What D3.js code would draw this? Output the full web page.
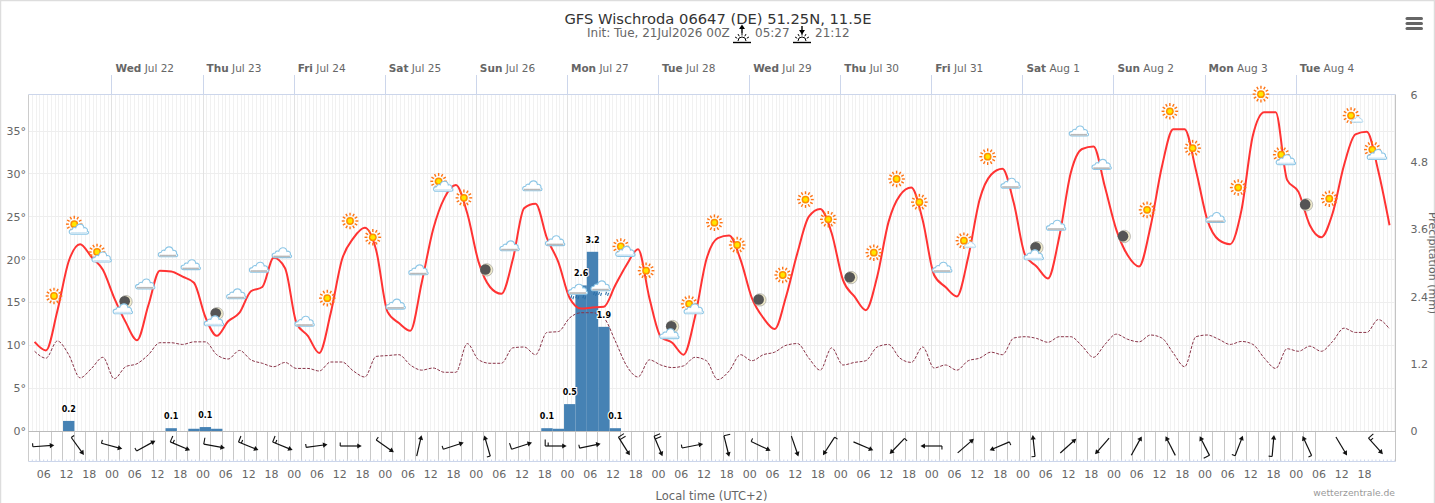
<!DOCTYPE html>
<html>
<head>
<meta charset="utf-8">
<title>GFS Wischroda</title>
<script src="https://cdn.jsdelivr.net/npm/d3@7/dist/d3.min.js"></script>
<style>
  html, body { margin: 0; padding: 0; background: #fff; overflow: hidden; }
  svg { display: block; font-family: "DejaVu Sans", sans-serif; }
  text { fill: #666; }
  .domain { display: none; }
</style>
</head>
<body>
<svg id="chart" width="1435" height="503"></svg>
<script>
// 3-hourly model output
var tempValues = [
  10.4, 9.4, 14, 19.8, 21.8, 20.3, 18.8, 15.5, 12.7, 10.6,
  14.7, 18.7, 18.6, 18, 17.3, 13.3, 11.1, 12.8, 13.8, 16.3,
  16.8, 20.2, 19, 12.6, 11.1, 9.1, 13.7, 20, 22.5, 23.7,
  21.1, 13.9, 12.6, 11.7, 17.3, 23.5, 27.2, 28.7, 25.4, 19.7,
  16.8, 16, 20, 26, 26.5, 22.5, 19.7, 15.5, 14.3, 14.4,
  14.5, 17, 19.4, 21.2, 15.5, 11, 10.3, 8.9, 13.3, 20,
  22.5, 22.8, 20, 15.5, 13.2, 11.9, 15.7, 20.8, 25, 25.9,
  23.1, 17.6, 15.7, 14.1, 18, 24.4, 27.5, 28.4, 24.6, 18.2,
  16.8, 15.7, 20.3, 27, 29.9, 30.6, 26.6, 20.5, 19.2, 17.8,
  22.7, 30.1, 32.9, 33.2, 28.5, 23.5, 20.5, 19.2, 23.8, 30.8,
  35.2, 35.2, 30.4, 24.6, 22.3, 21.8, 25.8, 34.5, 37.2, 37.2,
  29.3, 27.9, 24, 22.6, 25.4, 31, 34.6, 34.9, 30.4, 24
];
var dewValues = [
  9.3, 8.5, 10.5, 8.9, 6.2, 7.3, 8.6, 6.1, 7.5, 7.85,
  8.9, 10.3, 10.3, 10.1, 10.4, 10.4, 8.9, 8.4, 9.4, 8.3,
  7.9, 7.5, 8, 7.3, 7.3, 7, 8.05, 8.05, 7, 6.3,
  8.7, 8.8, 8.9, 7.7, 7.1, 7.35, 6.85, 6.85, 10.2, 8.3,
  7.9, 7.9, 9.7, 9.8, 8.9, 11.5, 11.6, 13.2, 13.8, 13.8,
  13.2, 10.5, 7.6, 6.3, 8.3, 7.7, 7.4, 7.6, 8.6, 8.2,
  6, 7, 8.9, 8.2, 8.9, 9.2, 10, 10.2, 8.5, 7.1,
  9.7, 7.7, 8, 8.2, 9.8, 10.1, 8.5, 8, 9.8, 7.35,
  7.7, 7.1, 8.2, 8.5, 9.2, 8.9, 10.85, 11, 10.8, 10.35,
  11, 11, 9.9, 8.6, 10.1, 11.3, 10.7, 10.4, 11.2, 10.85,
  9.1, 7.5, 11, 11.2, 10.7, 10.1, 10.45, 10.1, 8.5, 7.3,
  9.6, 9.3, 9.9, 9.3, 10.45, 12, 11.5, 11.5, 13, 11.9
];
// rain only falls in these steps (step number -> mm)
var rainSteps = [3, 12, 14, 15, 16, 45, 46, 47, 48, 49, 50, 51];
var rainValues = [0.18, 0.05, 0.04, 0.07, 0.04, 0.05, 0.04, 0.48, 2.6, 3.2, 1.86, 0.05];

// 6-hourly weather symbols
var symbolKinds = [
  "sun", "partly", "partly", "moonCloud", "cloud", "cloud", "cloud", "moonCloud", "cloud", "cloud",
  "cloud", "cloud", "sun", "sun", "sun", "cloud", "cloud", "partly", "sun", "moon",
  "cloud", "cloud", "cloud", "rain", "rain", "partly", "sun", "moonCloud", "partly", "sun",
  "sun", "moon", "sun", "sun", "sun", "moon", "sun", "sun", "sun", "cloud",
  "partlySmall", "sun", "cloud", "moonCloud", "cloud", "cloud", "cloud", "moon", "sun", "sun",
  "sun", "cloud", "sun", "sun", "partly", "moon", "sun", "partlySmall", "partly"
];
var symbolTemps = [
  15.75, 23.9, 20.65, 14.8, 17.15, 20.9, 19.4, 13.4, 16, 19.1,
  20.8, 12.8, 15.5, 24.5, 22.6, 14.8, 18.8, 28.9, 27.2, 18.8,
  21.6, 28.6, 22.2, 16.3, 16.7, 21.3, 18.7, 11.9, 14.6, 24.3,
  21.7, 15.3, 18.2, 27, 24.7, 17.9, 20.8, 29.4, 26.7, 19.1,
  22.2, 32, 28.9, 21.1, 24, 35, 31.1, 22.7, 25.8, 37.3,
  33, 24.9, 28.4, 39.3, 32, 26.4, 27.1, 36.8, 32.6
];

// 9-hourly wind: heading of the arrow (deg clockwise from north) and speed (kt)
var windHeading = [
  86, 144, 105, 61, 113, 100, 112, 112, 82, 90,
  125, 13, 72, 344, 72, 90, 78, 148, 157, 79,
  166, 115, 161, 213, 113, 224, 270, 49, 247, 354,
  48, 221, 29, 333, 333, 21, 5, 335, 149, 138
];
var windKnots = [
  5, 5, 5, 5, 15, 10, 15, 15, 5, 5,
  5, 0, 5, 5, 10, 15, 5, 20, 20, 5,
  10, 5, 0, 5, 0, 5, 5, 0, 5, 5,
  0, 0, 0, 0, 10, 5, 5, 5, 0, 15
];

var tempTicks = [0, 5, 10, 15, 20, 25, 30, 35];
var rainTicks = [0, 1.2, 2.4, 3.6, 4.8, 6];

var HOUR = 3600000;
var dataStart = Date.UTC(2026, 6, 21, 3, 44);
var symbolStart = Date.UTC(2026, 6, 21, 8, 51);
var windStart = Date.UTC(2026, 6, 21, 6, 2);
var lastDay = Date.UTC(2026, 7, 5);

var svg = d3.select("#chart");

var x = d3.scaleUtc()
  .domain([Date.UTC(2026, 6, 21, 2, 12), Date.UTC(2026, 7, 5, 2, 18)])
  .range([28.75, 1395.5]);
var yTemp = d3.scaleLinear().domain([0, 35]).range([431, 131]);
var yRain = d3.scaleLinear().domain([0, 6]).range([431, 95]);
var plotTop = 94.5, zeroY = 431.5, plotBottom = 461.5;

var stepTime = function(i) { return dataStart + i * 3 * HOUR; };

// page frame
svg.append("rect").attr("x", 0.5).attr("y", 0.5).attr("width", 1434).attr("height", 510)
  .attr("fill", "none").attr("stroke", "#ddd").attr("stroke-width", 1.5);

// grid
var hours = d3.utcHour.range(new Date(x.domain()[0]), new Date(x.domain()[1]));
var days = d3.utcDay.range(new Date(Date.UTC(2026, 6, 22)), new Date(lastDay));
var sixHours = d3.utcHour.every(6).range(new Date(x.domain()[0]), new Date(lastDay));
var threeHours = d3.range(0, 113).map(function(i) { return Date.UTC(2026, 6, 21, 5) + i * 3 * HOUR; });

var crisp = function(v) { return Math.round(v) + 0.5; };

svg.append("g").selectAll("line").data(hours).enter().append("line")
  .attr("x1", function(d) { return crisp(x(d)); }).attr("x2", function(d) { return crisp(x(d)); })
  .attr("y1", plotTop).attr("y2", zeroY)
  .attr("stroke", "#f1f1f1");
svg.append("g").selectAll("line").data(tempTicks).enter().append("line")
  .attr("x1", 29).attr("x2", 1395)
  .attr("y1", function(d) { return crisp(yTemp(d) - 0.5); }).attr("y2", function(d) { return crisp(yTemp(d) - 0.5); })
  .attr("stroke", "#eee");
svg.append("g").selectAll("line").data(days).enter().append("line")
  .attr("x1", function(d) { return crisp(x(d)); }).attr("x2", function(d) { return crisp(x(d)); })
  .attr("y1", plotTop).attr("y2", zeroY)
  .attr("stroke", "#e2e2e2");

// wind strip
svg.append("g").selectAll("line").data(threeHours).enter().append("line")
  .attr("x1", function(d) { return crisp(x(d)); }).attr("x2", function(d) { return crisp(x(d)); })
  .attr("y1", zeroY).attr("y2", plotBottom)
  .attr("stroke", "#c8c8c8");

// top day axis
svg.append("g").selectAll("line").data(days).enter().append("line")
  .attr("x1", function(d) { return crisp(x(d)); }).attr("x2", function(d) { return crisp(x(d)); })
  .attr("y1", 75).attr("y2", plotTop)
  .attr("stroke", "#ccd6eb");
var fmtDay = d3.utcFormat("%a"), fmtDate = d3.utcFormat(" %b %-d");
var dayText = svg.append("g").selectAll("text").data(days).enter().append("text")
  .attr("x", function(d) { return x(d) + 4; })
  .attr("y", 72)
  .attr("font-size", 10.5);
dayText.append("tspan").attr("font-weight", "bold").text(function(d) { return fmtDay(d); });
dayText.append("tspan").text(function(d) { return fmtDate(d); });

// bottom axis
svg.append("g").attr("transform", "translate(0," + plotBottom + ")")
  .call(d3.axisBottom(x).tickValues(hours).tickSize(-2).tickFormat(""))
  .selectAll("line").attr("stroke", "#ccd6eb");
var bottom = svg.append("g").attr("transform", "translate(0," + plotBottom + ")")
  .call(d3.axisBottom(x).tickValues(sixHours).tickSize(0).tickPadding(9)
    .tickFormat(d3.utcFormat("%H")));
bottom.selectAll("text").attr("font-family", "DejaVu Sans").attr("font-size", 11);

// y axes
var leftAxis = svg.append("g").attr("transform", "translate(26,0)")
  .call(d3.axisLeft(yTemp).tickValues(tempTicks).tickSize(0).tickPadding(0)
    .tickFormat(function(d) { return d + "°"; }));
leftAxis.selectAll("text").attr("font-family", "DejaVu Sans").attr("font-size", 11);
var rightAxis = svg.append("g").attr("transform", "translate(1410.5,0)")
  .call(d3.axisRight(yRain).tickValues(rainTicks).tickSize(0).tickPadding(0).tickFormat(String));
rightAxis.selectAll("text").attr("font-family", "DejaVu Sans").attr("font-size", 11);

// rain bars
var barW = x(stepTime(1)) - x(stepTime(0));
svg.append("g").selectAll("rect").data(rainValues).enter().append("rect")
  .attr("x", function(d, i) { return x(stepTime(rainSteps[i])) - barW / 2; })
  .attr("width", barW)
  .attr("y", function(d) { return yRain(d); })
  .attr("height", function(d) { return yRain(0) - yRain(d); })
  .attr("fill", "#4682b4");

// plot borders
var borders = svg.append("g");
borders.append("line").attr("x1", 28.5).attr("x2", 28.5).attr("y1", plotTop).attr("y2", plotBottom).attr("stroke", "#ccc");
borders.append("line").attr("x1", 1395.5).attr("x2", 1395.5).attr("y1", plotTop).attr("y2", plotBottom).attr("stroke", "#c4c4c4");
borders.append("line").attr("x1", 28.5).attr("x2", 1395.5).attr("y1", plotTop).attr("y2", plotTop).attr("stroke", "#ccd6eb");
borders.append("line").attr("x1", 28.5).attr("x2", 1395.5).attr("y1", zeroY).attr("y2", zeroY).attr("stroke", "#bbb");
borders.append("line").attr("x1", 28.5).attr("x2", 1395.5).attr("y1", plotBottom).attr("y2", plotBottom).attr("stroke", "#ccd6eb");

// temperature and dew point
var line = d3.line()
  .x(function(d, i) { return x(stepTime(i)); })
  .y(function(d) { return yTemp(d); })
  .curve(d3.curveMonotoneX);
svg.append("path").attr("d", line(dewValues))
  .attr("fill", "none").attr("stroke", "#8a3448").attr("stroke-width", 1).attr("stroke-dasharray", "3,1.5");
svg.append("path").attr("d", line(tempValues))
  .attr("fill", "none").attr("stroke", "#ff3333").attr("stroke-width", 2);

// symbols
function drawSun(g, dx, dy) {
  var s = g.append("g").attr("transform", "translate(" + dx + "," + dy + ")");
  s.selectAll("line").data(d3.range(12)).enter().append("line")
    .attr("x1", function(d) { return 5.4 * Math.cos(d * Math.PI / 6); })
    .attr("y1", function(d) { return 5.4 * Math.sin(d * Math.PI / 6); })
    .attr("x2", function(d) { return 8.3 * Math.cos(d * Math.PI / 6); })
    .attr("y2", function(d) { return 8.3 * Math.sin(d * Math.PI / 6); })
    .attr("stroke", "#ff7414").attr("stroke-width", 1.4);
  s.append("circle").attr("r", 3.9).attr("fill", "#ff9000");
  s.append("circle").attr("r", 2.4).attr("fill", "#ffe600");
}
function drawCloud(g, dx, dy, scale, grey) {
  var c = g.append("g").attr("transform", "translate(" + dx + "," + dy + ") scale(" + scale + ")");
  c.append("path")
    .attr("d", "M-6.5,4.5 C-9.5,4.5 -9.5,0.3 -6,0.3 C-5.5,-1.7 -3.5,-1.8 -2.7,-1.3 C-1.5,-5.5 4,-5.8 4.7,-1.2 C6.2,-1.9 8.6,-0.3 7.8,1.8 C9.6,2.6 9.2,4.5 7,4.5 Z")
    .attr("fill", "#fff").attr("stroke", "#8cc6e6").attr("stroke-width", 1);
  c.append("line").attr("x1", -7.5).attr("x2", 7.5).attr("y1", 3.4).attr("y2", 3.4)
    .attr("stroke", grey ? "#b9b9b9" : "#cfe6f4").attr("stroke-width", 1.5);
}
function drawMoon(g, dx, dy) {
  var m = g.append("g").attr("transform", "translate(" + dx + "," + dy + ")");
  m.append("circle").attr("r", 6.2).attr("fill", "#eee9c9").attr("stroke", "#999").attr("stroke-width", 0.6);
  m.append("circle").attr("cx", -1.3).attr("cy", -0.3).attr("r", 5.3).attr("fill", "#555");
}
function drawSymbol(d, i) {
  var g = d3.select(this);
  if (d === "sun") drawSun(g, 0, 0);
  if (d === "cloud") drawCloud(g, 0, 0, 1.1, true);
  if (d === "moon") drawMoon(g, 0, 0);
  if (d === "partly") { drawSun(g, -2.5, -2); drawCloud(g, 2, 3, 1.1, false); }
  if (d === "partlySmall") { drawSun(g, -1, 0); drawCloud(g, 5, 4, 0.65, false); }
  if (d === "moonCloud") { drawMoon(g, 3.7, -2.5); drawCloud(g, 0.4, 4.7, 1.1, false); }
  if (d === "rain") {
    drawCloud(g, 0, -2, 1.1, true);
    g.selectAll("path.drop").data([-6, -1, 6]).enter().append("path").attr("class", "drop")
      .attr("d", function(o) { return "M" + o + ",4 l-1,3 M" + (o + 2) + ",5 l-1,3"; })
      .attr("stroke", "#2a6fa8").attr("stroke-width", 1.1);
  }
}
svg.append("g").selectAll("g").data(symbolKinds).enter().append("g")
  .attr("transform", function(d, i) {
    return "translate(" + x(symbolStart + i * 6 * HOUR) + "," + yTemp(symbolTemps[i]) + ")";
  })
  .each(drawSymbol);

// rain labels
var labelled = rainValues.map(function(v, i) { return { v: v, step: rainSteps[i] }; })
  .filter(function(d) { return d.v >= 0.05; });
svg.append("g").selectAll("text").data(labelled).enter().append("text")
  .attr("x", function(d) { return x(stepTime(d.step)); })
  .attr("y", function(d) { return yRain(d.v) - 9; })
  .attr("text-anchor", "middle")
  .attr("font-size", 8).attr("font-weight", "bold")
  .attr("stroke", "#fff").attr("stroke-width", 2).attr("paint-order", "stroke")
  .style("fill", "#000")
  .text(function(d) { return d.v.toFixed(1); });

// wind arrows
function drawWind(d, i) {
  var g = d3.select(this);
  g.append("line").attr("y1", 10.5).attr("y2", -9).attr("stroke", "#111").attr("stroke-width", 1.2);
  g.append("path").attr("d", "M0,-11 L-2.6,-6.5 L2.6,-6.5 Z").attr("fill", "#111");
  var kt = windKnots[i], pos = 10.5;
  while (kt >= 10) {
    g.append("line").attr("x1", 0).attr("x2", -6.5).attr("y1", pos).attr("y2", pos)
      .attr("stroke", "#111").attr("stroke-width", 1.1);
    pos -= 3; kt -= 10;
  }
  if (kt >= 5) {
    g.append("line").attr("x1", 0).attr("x2", -3.5).attr("y1", pos).attr("y2", pos)
      .attr("stroke", "#111").attr("stroke-width", 1.1);
  }
}
svg.append("g").selectAll("g").data(windHeading).enter().append("g")
  .attr("transform", function(d, i) {
    return "translate(" + x(windStart + i * 9 * HOUR) + ",446) rotate(" + d + ")";
  })
  .each(drawWind);

// titles
svg.append("text").attr("x", 718).attr("y", 24).attr("text-anchor", "middle")
  .attr("font-size", 14.7).style("fill", "#333")
  .text("GFS Wischroda 06647 (DE) 51.25N, 11.5E");
var subSize = 12;
svg.append("text").attr("x", 587).attr("y", 37).attr("font-size", subSize).text("Init: Tue, 21Jul2026 00Z");
svg.append("text").attr("x", 755).attr("y", 37).attr("font-size", subSize).text("05:27");
svg.append("text").attr("x", 815).attr("y", 37).attr("font-size", subSize).text("21:12");

function drawHorizon(cx, up) {
  var g = svg.append("g").attr("transform", "translate(" + cx + ",42)");
  g.append("line").attr("x1", -9).attr("x2", 9).attr("y1", 0.5).attr("y2", 0.5).attr("stroke", "#000").attr("stroke-width", 1.4);
  g.append("path").attr("d", "M-4,-1 A4,4 0 0 1 4,-1").attr("fill", "none").attr("stroke", "#000");
  g.selectAll("line.ray").data([-150, -120, -90, -60, -30]).enter().append("line").attr("class", "ray")
    .attr("x1", function(d) { return 5.5 * Math.cos(d * Math.PI / 180); })
    .attr("y1", function(d) { return 5.5 * Math.sin(d * Math.PI / 180) - 1; })
    .attr("x2", function(d) { return 8 * Math.cos(d * Math.PI / 180); })
    .attr("y2", function(d) { return 8 * Math.sin(d * Math.PI / 180) - 1; })
    .attr("stroke", "#000");
  g.append("line").attr("x1", 0).attr("x2", 0).attr("y1", -16).attr("y2", -9).attr("stroke", "#000").attr("stroke-width", 1.4);
  g.append("path").attr("d", up ? "M-3,-13 L0,-17.5 L3,-13 Z" : "M-3,-12 L0,-7.5 L3,-12 Z").attr("fill", "#000");
}
drawHorizon(742, true);
drawHorizon(802, false);

svg.append("text").attr("x", 711.5).attr("y", 500).attr("text-anchor", "middle")
  .attr("font-size", 11.5).text("Local time (UTC+2)");
svg.append("text").attr("x", 1395).attr("y", 496).attr("text-anchor", "end")
  .attr("font-size", 9.2).style("fill", "#999").text("wetterzentrale.de");
svg.append("text")
  .attr("transform", "translate(1429,263) rotate(90)").attr("text-anchor", "middle")
  .attr("font-size", 11).text("Precipitation (mm)");

// menu button
svg.append("g").selectAll("line").data([18.5, 23.5, 28.5]).enter().append("line")
  .attr("x1", 1407).attr("x2", 1421.5)
  .attr("y1", function(d) { return d; }).attr("y2", function(d) { return d; })
  .attr("stroke", "#666").attr("stroke-width", 3).attr("stroke-linecap", "round");
</script>
</body>
</html>
